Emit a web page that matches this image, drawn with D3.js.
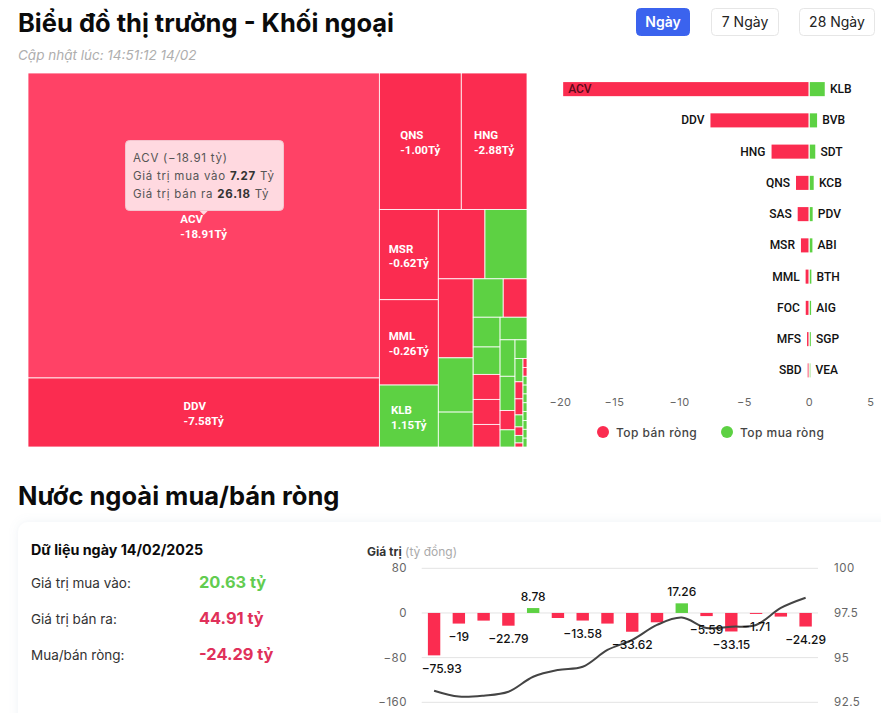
<!DOCTYPE html>
<html>
<head>
<meta charset="utf-8">
<script src="https://cdn.jsdelivr.net/npm/d3@7"></script>
<style>
  html, body { margin: 0; background: #fff; overflow: hidden; }
  svg { display: block; }
  text { font-family: Inter, sans-serif; }
</style>
</head>
<body>
<svg id="chart" width="881" height="713"></svg>
<script>
const RED = "#fb2c50";
const RED_HOVER = "#ff4266";
const GREEN = "#5dd143";

// treemap: traded value of every cell, in drawing order
const cellValues = [33.45, 7.57, 3.49, 2.8, 1.66, 1.57, 1.14, 1.01, 0.91, 0.86, 0.59, 0.38, 0.36, 0.285,
  0.25, 0.23, 0.21, 0.21, 0.19, 0.19, 0.17, 0.16, 0.09, 0.08, 0.07,
  0.058, 0.0425, 0.04, 0.03, 0.021, 0.019, 0.01,
  0.011, 0.011, 0.011, 0.011, 0.011, 0.011, 0.011, 0.011, 0.011, 0.011];
const cellSides = ["s", "s", "s", "s", "s", "s", "b", "s", "b", "s", "b", "b", "b", "s",
  "b", "b", "s", "s", "s", "b", "b", "b", "s", "b", "b",
  "b", "s", "s", "b", "s", "b", "s",
  "s", "s", "b", "b", "b", "b", "b", "b", "b", "b"];
const cellNames = ["ACV", "DDV", "QNS", "HNG", "MSR", "MML", "KLB"];
const cellNets = ["-18.91Tỷ", "-7.58Tỷ", "-1.00Tỷ", "-2.88Tỷ", "-0.62Tỷ", "-0.26Tỷ", "1.15Tỷ"];
// how many cells go in each strip, strips alternate column / row, last one is a column
const stripSizes = [2, 2, 3, 2, 3, 2, 5, 1, 4, 1, 7, 10];

// top sell / buy bars
const sellNames = ["ACV", "DDV", "HNG", "QNS", "SAS", "MSR", "MML", "FOC", "MFS", "SBD"];
const sellValues = [-18.91, -7.58, -2.88, -1.0, -0.87, -0.62, -0.26, -0.25, -0.15, -0.1];
const buyNames = ["KLB", "BVB", "SDT", "KCB", "PDV", "ABI", "BTH", "AIG", "SGP", "VEA"];
const buyValues = [1.15, 0.56, 0.42, 0.3, 0.22, 0.2, 0.12, 0.1, 0.08, 0.04];
const barTicks = [-20, -15, -10, -5, 0, 5];

// net flow by session
const netValues = [-75.93, -19, -13.7, -22.79, 8.78, -9, -13.58, -19, -33.62, -16.7, 17.26, -5.59, -33.15, -1.71, -6.5, -24.29];
const netLabelled = [0, 1, 3, 4, 6, 8, 10, 11, 12, 13, 15];
const indexValues = [93.15, 92.82, 92.87, 93.09, 93.93, 94.31, 94.49, 95.43, 95.99, 96.83, 97.24, 96.66, 96.73, 96.83, 97.78, 98.35];
const leftTicks = [80, 0, -80, -160];
const rightTicks = [100, 97.5, 95, 92.5];

const svg = d3.select("#chart");
const minus = s => String(s).replace("-", "\u2212");

function label(x, y, str, size, weight, fill, extra) {
  const t = svg.append("text").attr("x", x).attr("y", y).text(str)
    .attr("font-size", size).attr("font-weight", weight).attr("fill", fill);
  if (extra) extra(t);
  return t;
}

// headings
label(18, 32, "Biểu đồ thị trường - Khối ngoại", 25.5, 700, "#0b0b0b");
label(18, 60, "Cập nhật lúc: 14:51:12 14/02", 13.5, 400, "#aeaeae", t => t.attr("font-style", "italic"));
label(18, 504.5, "Nước ngoài mua/bán ròng", 25.5, 700, "#0b0b0b");

// range buttons
const buttons = [["Ngày", 636, 690, true], ["7 Ngày", 711, 779, false], ["28 Ngày", 799, 875, false]];
buttons.forEach(([name, x0, x1, on]) => {
  svg.append("rect").attr("x", x0 + 0.5).attr("y", 8.5).attr("width", x1 - x0 - 1).attr("height", 27).attr("rx", 4)
    .attr("fill", on ? "#3b63ee" : "#fff").attr("stroke", on ? "#3b63ee" : "#e6e6e6");
  label((x0 + x1) / 2, 27, name, 14, on ? 600 : 400, on ? "#fff" : "#222", t => t.attr("text-anchor", "middle"));
});

// treemap
function stripTile(parent, x0, y0, x1, y1) {
  let start = 0;
  let left = parent.value;
  stripSizes.forEach((n, s) => {
    const kids = parent.children.slice(start, start + n);
    const sum = d3.sum(kids, d => d.value);
    const strip = { children: kids, value: sum };
    if (s % 2 === 0 || s === stripSizes.length - 1) {
      const w = (x1 - x0) * sum / left;
      d3.treemapSlice(strip, x0, y0, x0 + w, y1);
      x0 += w;
    } else {
      const h = (y1 - y0) * sum / left;
      d3.treemapDice(strip, x0, y0, x1, y0 + h);
      y0 += h;
    }
    start += n;
    left -= sum;
  });
}

const root = d3.hierarchy({ children: cellValues.map((v, i) => ({ value: v, side: cellSides[i], name: cellNames[i], net: cellNets[i] })) })
  .sum(d => d.value || 0);
d3.treemap().size([499, 374]).tile(stripTile)(root);

const map = svg.append("g").attr("transform", "translate(28,73)");
map.selectAll("rect").data(root.leaves()).join("rect")
  .attr("x", d => d.x0).attr("y", d => d.y0)
  .attr("width", d => d.x1 - d.x0).attr("height", d => d.y1 - d.y0)
  .attr("fill", d => d.data.name === "ACV" ? RED_HOVER : d.data.side === "s" ? RED : GREEN)
  .attr("stroke", "#fff").attr("stroke-width", 0.8);

root.leaves().filter(d => d.data.name).forEach(d => {
  const cx = (d.x0 + d.x1) / 2;
  const cy = (d.y0 + d.y1) / 2;
  const g = map.append("g").attr("font-weight", 700).attr("font-size", 11.5).attr("fill", "#fff");
  const lines = [[d.data.name, cy - 2], [d.data.net, cy + 12.5]].map(([s, y]) =>
    g.append("text").attr("y", y).text(s).style("font-family", "Roboto"));
  const w = d3.max(lines, l => l.node().getComputedTextLength());
  lines.forEach(l => l.attr("x", cx - w / 2));
});

// tooltip on ACV
const acv = root.leaves()[0];
const tipX = 28 + (acv.x0 + acv.x1) / 2;
const tip = svg.append("g");
tip.append("path")
  .attr("d", `M${tipX - 6},209 L${tipX + 6},209 L${tipX},215 Z`)
  .attr("fill", "#ffd9e0");
tip.append("rect").attr("x", 125.5).attr("y", 140.5).attr("width", 158).attr("height", 70).attr("rx", 4)
  .attr("fill", "#ffd9e0").attr("stroke", "#f4c4ce");
const tipRows = [
  [["ACV (\u221218.91 tỷ)", 400]],
  [["Giá trị mua vào ", 400], ["7.27", 700], [" Tỷ", 400]],
  [["Giá trị bán ra ", 400], ["26.18", 700], [" Tỷ", 400]]
];
tipRows.forEach((row, i) => {
  const t = tip.append("text").attr("x", 133).attr("y", 161.5 + i * 18)
    .attr("font-size", 11.5).attr("fill", "#555").attr("letter-spacing", 0.75).attr("xml:space", "preserve");
  row.forEach(([s, w]) => t.append("tspan").attr("font-weight", w).attr("fill", w > 400 ? "#333" : "#555").text(s));
});

// top sell / buy bars
const xBar = d3.scaleLinear().domain([-20, 5]).range([549, 874]);
const yBar = d3.scaleBand().domain(d3.range(sellNames.length)).range([73.5, 386]).paddingInner(0.55).paddingOuter(0.275);
const bars = svg.append("g");
bars.selectAll(".sell").data(sellValues).join("rect").attr("class", "sell")
  .attr("x", d => xBar(d)).attr("y", (d, i) => yBar(i))
  .attr("width", d => xBar(0) - xBar(d) - 0.5).attr("height", yBar.bandwidth()).attr("fill", RED);
bars.selectAll(".buy").data(buyValues).join("rect").attr("class", "buy")
  .attr("x", xBar(0) + 0.8).attr("y", (d, i) => yBar(i))
  .attr("width", d => xBar(d) - xBar(0)).attr("height", yBar.bandwidth()).attr("fill", GREEN);
const nameStyle = t => t.style("font-family", "Roboto").attr("dominant-baseline", "central");
sellNames.forEach((n, i) => {
  const inside = xBar(sellValues[i]) - 30 < xBar.range()[0];
  label(inside ? xBar(sellValues[i]) + 5 : xBar(sellValues[i]) - 6, yBar(i) + yBar.bandwidth() / 2, n, 12, 500, inside ? "#5c0a1c" : "#111", nameStyle)
    .attr("text-anchor", inside ? "start" : "end");
});
buyNames.forEach((n, i) => {
  label(xBar(buyValues[i]) + 6, yBar(i) + yBar.bandwidth() / 2, n, 12, 500, "#111", nameStyle);
});

const barAxis = svg.append("g").attr("transform", "translate(0,395)")
  .call(d3.axisBottom(xBar).tickValues(barTicks).tickSize(0).tickFormat(minus));
barAxis.select(".domain").remove();
barAxis.selectAll("text")
  .attr("font-size", 11).attr("font-family", "Inter").attr("fill", "#666").attr("letter-spacing", 0.5)
  .attr("text-anchor", d => d === -20 ? "start" : d === 5 ? "end" : "middle");

// legend
[[603, RED, "Top bán ròng"], [727, GREEN, "Top mua ròng"]].forEach(([x, c, s]) => {
  svg.append("circle").attr("cx", x).attr("cy", 432).attr("r", 6).attr("fill", c);
  label(x + 13, 436.5, s, 12, 500, "#444", t => t.attr("letter-spacing", 0.45));
});

// card
svg.append("defs").append("filter").attr("id", "soft").attr("x", "-5%").attr("y", "-10%").attr("width", "110%").attr("height", "120%")
  .append("feDropShadow").attr("dx", 0).attr("dy", 0).attr("stdDeviation", 5).attr("flood-color", "#8aa0c0").attr("flood-opacity", 0.14);
svg.append("rect").attr("x", 18).attr("y", 522).attr("width", 900).attr("height", 260).attr("rx", 10)
  .attr("fill", "#fff").attr("filter", "url(#soft)");

label(31, 555, "Dữ liệu ngày 14/02/2025", 14.3, 700, "#0b0b0b");
[["Giá trị mua vào:", "20.63 tỷ", "#62cc50", 588], ["Giá trị bán ra:", "44.91 tỷ", "#e0305a", 624], ["Mua/bán ròng:", "-24.29 tỷ", "#e0305a", 660]].forEach(([a, b, c, y]) => {
  label(31, y, a, 13.5, 400, "#333");
  label(199, y, b, 16.4, 700, c);
});

// mixed chart
const xNet = d3.scaleBand().domain(d3.range(netValues.length)).range([421.7, 818]).paddingInner(0.5).paddingOuter(0.25);
const yNet = d3.scaleLinear().domain([-160, 80]).range([702.3, 568.3]);
const yIdx = d3.scaleLinear().domain([92.5, 100]).range([702.3, 568.3]);

const t0 = label(367, 556, "Giá trị", 12, 700, "#333");
t0.append("tspan").attr("font-weight", 400).attr("fill", "#aaa").text(" (tỷ đồng)");

const grid = svg.append("g");
grid.selectAll("line").data(leftTicks).join("line")
  .attr("x1", 421.7).attr("x2", 818).attr("y1", d => yNet(d)).attr("y2", d => yNet(d))
  .attr("stroke", "#e3e3e3");

const axL = svg.append("g").attr("transform", "translate(407,0)")
  .call(d3.axisLeft(yNet).tickValues(leftTicks).tickSize(0).tickFormat(minus));
const axR = svg.append("g").attr("transform", "translate(834,0)")
  .call(d3.axisRight(yIdx).tickValues(rightTicks).tickSize(0).tickFormat(d => String(d)));
[axL, axR].forEach(a => {
  a.select(".domain").remove();
  a.selectAll("text").attr("font-size", 11.5).attr("font-family", "Inter").attr("fill", "#666").attr("letter-spacing", 0.5).attr("x", 0);
});

svg.append("g").selectAll("rect").data(netValues).join("rect")
  .attr("x", (d, i) => xNet(i)).attr("width", xNet.bandwidth())
  .attr("y", d => yNet(Math.max(d, 0))).attr("height", d => Math.abs(yNet(d) - yNet(0)))
  .attr("fill", d => d < 0 ? RED : GREEN);

const line = d3.line().x((d, i) => xNet(i) + xNet.bandwidth() / 2).y(d => yIdx(d)).curve(d3.curveCatmullRom.alpha(0.5));
svg.append("path").attr("d", line(indexValues)).attr("fill", "none").attr("stroke", "#444").attr("stroke-width", 2);

netLabelled.forEach(i => {
  const v = netValues[i];
  const y = v < 0 ? yNet(v) + 17.5 : yNet(v) - 7.5;
  const t = label(xNet(i) + xNet.bandwidth() / 2, y, minus(v), 12, 500, "#111", t => t.attr("text-anchor", "middle"));
  // keep the label inside the plot on the left
  const w = t.node().getComputedTextLength();
  if (+t.attr("x") - w / 2 < 421.7) t.attr("x", 421.7 + w / 2);
});
</script>
</body>
</html>
